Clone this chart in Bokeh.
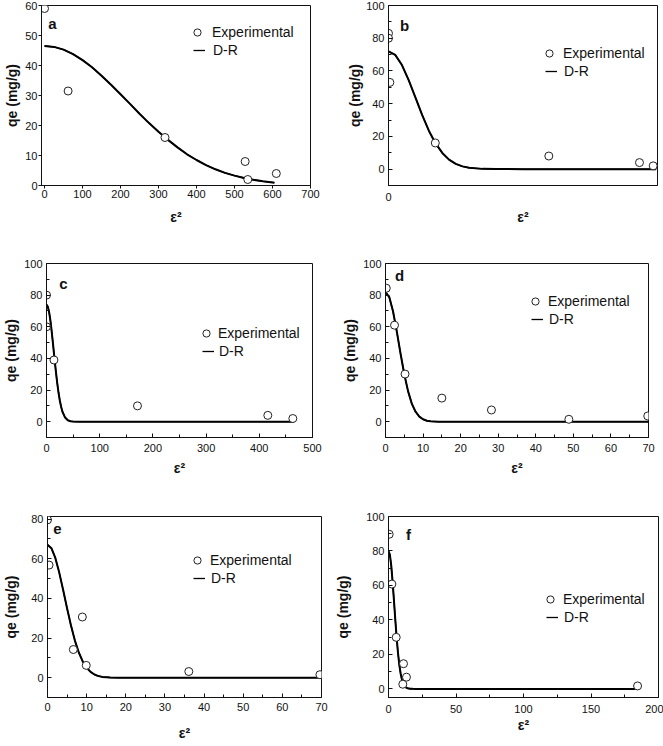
from bokeh.plotting import figure
from bokeh.layouts import column, row
from bokeh.models import Range1d, FixedTicker, Label, Legend, LegendItem
from bokeh.embed import file_html
from bokeh.resources import INLINE

FONT = "Liberation Sans"

# ---------------- data ----------------
# panel a
a_exp_x = [0, 62, 317, 528, 535, 610]
a_exp_y = [59, 31.5, 16, 8, 2, 4]
a_fit_x = [0, 25, 50, 75, 100, 125, 150, 175, 200, 225, 250, 275, 300, 325,
           350, 375, 400, 425, 450, 475, 500, 525, 550, 575, 605]
a_fit_y = [46.5, 46.2, 45.3, 43.8, 41.8, 39.4, 36.6, 33.6, 30.4, 27.2, 23.9,
           20.8, 17.9, 15.2, 12.7, 10.4, 8.5, 6.8, 5.4, 4.2, 3.3, 2.5, 1.9, 1.4, 0.95]
a_xticks = [0, 100, 200, 300, 400, 500, 600, 700]
a_yticks = [0, 10, 20, 30, 40, 50, 60]

# panel b (x in percent of the unlabelled axis)
b_exp_x = [0, 0, 0.5, 17.4, 59.6, 93.3, 98.4]
b_exp_y = [83, 80, 53, 16, 8, 4, 2]
b_fit_x = [0, 2.5, 5, 7.5, 10, 12.5, 15, 17.5, 20, 22.5, 25, 27.5, 30, 35, 40, 50, 99.5]
b_fit_y = [72, 69.8, 63.6, 54.4, 43.8, 33.1, 23.5, 15.7, 9.9, 5.8, 3.2, 1.7, 0.8, 0.16, 0.03, 0, 0]
b_xticks = [0]
b_yticks = [0, 20, 40, 60, 80, 100]
b_yminor = [10, 30, 50, 70, 90]

# panel c
c_exp_x = [0, 0, 14, 171, 416, 463]
c_exp_y = [80, 60, 39, 10, 4, 2]
c_fit_x = [0, 2.5, 5, 7.5, 10, 12.5, 15, 17.5, 20, 22.5, 25, 27.5, 30, 35, 40, 45, 50, 60, 465]
c_fit_y = [74, 72.7, 69.1, 63.5, 56.3, 48.3, 40.0, 32.1, 24.8, 18.6, 13.4, 9.4, 6.3, 2.6, 0.9, 0.3, 0.08, 0, 0]
c_xticks = [0, 100, 200, 300, 400, 500]
c_xminor = [50, 150, 250, 350, 450]
c_yticks = [0, 20, 40, 60, 80, 100]
c_yminor = [10, 30, 50, 70, 90]

# panel d
d_exp_x = [0.2, 2.4, 5.2, 15.0, 28.2, 48.8, 69.8]
d_exp_y = [84.4, 61, 30.1, 14.9, 7.4, 1.5, 3.6]
d_fit_x = [0, 1, 2, 3, 4, 5, 6, 7, 8, 9, 10, 11, 12, 14, 16, 70]
d_fit_y = [82, 78.8, 69.8, 57.1, 43.1, 30.0, 19.3, 11.4, 6.3, 3.2, 1.5, 0.6, 0.25, 0.03, 0, 0]
d_xticks = [0, 10, 20, 30, 40, 50, 60, 70]
d_xminor = [5, 15, 25, 35, 45, 55, 65]
d_yticks = [0, 20, 40, 60, 80, 100]
d_yminor = [10, 30, 50, 70, 90]

# panel e
e_exp_x = [0, 0.4, 6.6, 8.9, 9.9, 36.1, 69.6]
e_exp_y = [79.6, 56.8, 14.2, 30.6, 6.2, 3.1, 1.5]
e_fit_x = [0, 1, 2, 3, 4, 5, 6, 7, 8, 9, 10, 11, 12, 13, 14, 16, 18, 20, 70]
e_fit_y = [67, 65.3, 60.4, 53.0, 44.2, 35.0, 26.3, 18.7, 12.7, 8.2, 5.0, 2.9, 1.6, 0.8, 0.4, 0.1, 0.01, 0, 0]
e_xticks = [0, 10, 20, 30, 40, 50, 60, 70]
e_xminor = [5, 15, 25, 35, 45, 55, 65]
e_yticks = [0, 20, 40, 60, 80]
e_yminor = [10, 30, 50, 70]

# panel f
f_exp_x = [0.5, 2.5, 5.7, 11.1, 10.6, 13.3, 184.5]
f_exp_y = [89.7, 60.8, 29.9, 14.6, 2.7, 6.8, 1.7]
f_fit_x = [0, 1, 2, 3, 4, 5, 6, 7, 8, 9, 10, 11, 12, 13, 14, 16, 18, 20, 185]
f_fit_y = [80, 77.9, 71.8, 62.6, 51.8, 40.5, 30.0, 21.1, 14.0, 8.8, 5.3, 3.0, 1.6, 0.8, 0.4, 0.08, 0.01, 0, 0]
f_xticks = [0, 50, 100, 150, 200]
f_xminor = [25, 75, 125, 175]
f_yticks = [0, 20, 40, 60, 80, 100]
f_yminor = [10, 30, 50, 70, 90]

LABEL_EXP = "Experimental"
LABEL_FIT = "D-R"
Y_TITLE = "qe (mg/g)"
X_TITLE = "ε²"

# ---------------- layout (page coordinates) ----------------
COLS = [(0, 331), (331, 663)]
ROWS = [(0, 240), (240, 500), (500, 746)]


def panel(letter, ex, ey, fx, fy, xr, yr, xt, yt, xminor, yminor, col, rw,
          frame, letter_pos, leg_pos, ticks_out=False, yls=2, xls=4,
          xstand=6, ystand=4):
    cx0, cx1 = COLS[col]
    ry0, ry1 = ROWS[rw]
    L, T, R, B = frame
    p = figure(width=cx1 - cx0, height=ry1 - ry0, output_backend="svg",
               toolbar_location=None, x_range=Range1d(*xr), y_range=Range1d(*yr),
               min_border_left=L - cx0, min_border_right=cx1 - R,
               min_border_top=T - ry0, min_border_bottom=ry1 - B)
    p.grid.visible = False
    p.outline_line_color = "#111111"
    p.outline_line_width = 1
    p.background_fill_color = "white"
    p.border_fill_color = "white"

    p.xaxis.ticker = FixedTicker(ticks=xt, minor_ticks=xminor)
    p.yaxis.ticker = FixedTicker(ticks=yt, minor_ticks=yminor)
    for ax in (p.xaxis[0], p.yaxis[0]):
        ax.axis_line_color = "#111111"
        ax.major_tick_line_color = "#111111"
        ax.minor_tick_line_color = "#111111"
        ax.major_label_text_font = FONT
        ax.major_label_text_font_size = "11px"
        ax.major_label_text_color = "#111111"
        ax.axis_label_text_font = FONT
        ax.axis_label_text_font_style = "bold"
        ax.axis_label_text_font_size = "14px"
        ax.axis_label_text_color = "#111111"
        if ticks_out:
            ax.major_tick_in, ax.major_tick_out = 0, 3
        else:
            ax.major_tick_in, ax.major_tick_out = 4, 0
        ax.minor_tick_in, ax.minor_tick_out = 3, 0
    p.xaxis.axis_label = X_TITLE
    p.yaxis.axis_label = Y_TITLE
    p.xaxis.major_label_standoff = xstand
    p.yaxis.major_label_standoff = ystand
    p.xaxis.axis_label_standoff = xls
    p.yaxis.axis_label_standoff = yls

    # thin copy of the fit, hidden under the thick one, used only as legend glyph
    legline = p.line(fx, fy, line_color="black", line_width=1.3)
    p.line(fx, fy, line_color="black", line_width=2)
    exp = p.scatter(ex, ey, marker="circle", size=8, fill_color="white",
                    line_color="#222222", line_width=1)

    ccx, ccy, tx = leg_pos
    leg1 = Legend(items=[LegendItem(label=LABEL_EXP, renderers=[exp])],
                  location=(ccx - 10 - L, B - ccy - 9),
                  glyph_width=20, glyph_height=18, label_height=18,
                  label_standoff=tx - (ccx + 10))
    leg2 = Legend(items=[LegendItem(label=LABEL_FIT, renderers=[legline])],
                  location=(ccx - 4 - L, B - ccy - 27),
                  glyph_width=12, glyph_height=18, label_height=18,
                  label_standoff=tx + 1 - (ccx + 8))
    for lg in (leg1, leg2):
        lg.border_line_color = None
        lg.background_fill_alpha = 0
        lg.padding = 0
        lg.margin = 0
        lg.spacing = 0
        lg.label_text_font = FONT
        lg.label_text_font_size = "14px"
        lg.label_text_color = "#111111"
        p.add_layout(lg)

    lx, ly = letter_pos
    p.add_layout(Label(x=lx - L, y=B - ly, x_units="screen", y_units="screen",
                       text=letter, text_font=FONT, text_font_style="bold",
                       text_font_size="15px", text_align="center",
                       text_baseline="middle", text_color="#111111"))
    return p


pa = panel("a", a_exp_x, a_exp_y, a_fit_x, a_fit_y, (-8, 700), (0, 60),
           a_xticks, a_yticks, [], [], 0, 0, (41, 5, 310, 185), (52, 23),
           (197, 32, 212), ticks_out=True, yls=2, xls=8, xstand=1, ystand=1)
pb = panel("b", b_exp_x, b_exp_y, b_fit_x, b_fit_y, (0, 100), (-10, 100),
           b_xticks, b_yticks, [], b_yminor, 1, 0, (388, 5, 657, 185), (404, 25),
           (549, 53, 563), yls=0, xls=5, xstand=7)
pc = panel("c", c_exp_x, c_exp_y, c_fit_x, c_fit_y, (0, 500), (-10, 100),
           c_xticks, c_yticks, c_xminor, c_yminor, 0, 1, (46, 263, 312, 438), (63, 284),
           (206, 334, 218), yls=2, xls=5, xstand=6)
pd_ = panel("d", d_exp_x, d_exp_y, d_fit_x, d_fit_y, (0, 70), (-10, 100),
            d_xticks, d_yticks, d_xminor, d_yminor, 1, 1, (385, 263, 648, 437), (399, 275),
            (535, 301, 548), yls=2, xls=5, xstand=6)
pe = panel("e", e_exp_x, e_exp_y, e_fit_x, e_fit_y, (0, 70), (-10, 81.3),
           e_xticks, e_yticks, e_xminor, e_yminor, 0, 2, (42, 516, 321, 702), (52, 533),
           (192, 565, 205), yls=9, xls=11, xstand=5)
pf = panel("f", f_exp_x, f_exp_y, f_fit_x, f_fit_y, (0, 200), (-5, 100),
           f_xticks, f_yticks, f_xminor, f_yminor, 1, 2, (388, 516, 658, 697), (408, 534),
           (550, 599, 563), yls=12, xls=1, xstand=7)

layout = column(row(pa, pb), row(pc, pd_), row(pe, pf))
open("out.html", "w").write(file_html(layout, INLINE))
